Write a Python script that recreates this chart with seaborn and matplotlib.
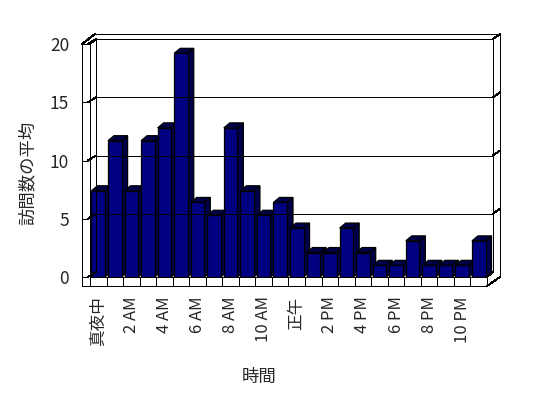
import matplotlib
matplotlib.use("Agg")
import matplotlib.pyplot as plt
import seaborn as sns
import pandas as pd
from matplotlib.lines import Line2D
from matplotlib.patches import Polygon
from matplotlib.transforms import Affine2D

# 時間帯ごとの平均訪問数
hours = ["真夜中", "1 AM", "2 AM", "3 AM", "4 AM", "5 AM", "6 AM", "7 AM",
         "8 AM", "9 AM", "10 AM", "11 AM", "正午", "1 PM", "2 PM", "3 PM",
         "4 PM", "5 PM", "6 PM", "7 PM", "8 PM", "9 PM", "10 PM", "11 PM"]
visits = [7.4, 11.7, 7.4, 11.7, 12.8, 19.2, 6.4, 5.3, 12.8, 7.4, 5.3, 6.4,
          4.2, 2.1, 2.1, 4.2, 2.1, 1.0, 1.0, 3.1, 1.0, 1.0, 1.0, 3.1]
y_ticks = [0, 5, 10, 15, 20]

sns.set_style("white")
plt.rcParams["font.family"] = ["Noto Sans CJK JP", "DejaVu Sans"]

W, H = 548, 398
fig = plt.figure(figsize=(W / 100, H / 100), dpi=100)
# pixel coords, origin top-left
px = Affine2D().scale(1 / W, -1 / H).translate(0, 1) + fig.transFigure
LW = 0.72  # one pixel

X0, X1, Y0, YT = 90, 487, 277, 44
ax = fig.add_axes([X0 / W, (H - Y0) / H, (X1 - X0) / W, (Y0 - YT) / H])

df = pd.DataFrame({"hour": hours, "visits": visits})
sns.barplot(data=df, x="hour", y="visits", order=hours, color="#000080",
            saturation=1, edgecolor="black", linewidth=0.9, width=0.82, ax=ax, zorder=3)
ax.set_xlim(-0.5, len(hours) - 0.5)
ax.set_ylim(0, 20)

# 3D depth of each bar
p0 = ax.transData.transform((0, 0))
p1 = ax.transData.transform((1, 1))
dxu = 6 / (p1[0] - p0[0])
dyu = 5 / (p1[1] - p0[1])
for bar in list(ax.patches):
    x0 = bar.get_x()
    x1 = x0 + bar.get_width()
    h = bar.get_height()
    side = Polygon([(x1, 0), (x1, h), (x1 + dxu, h + dyu), (x1 + dxu, dyu)],
                   closed=True, facecolor="#000048", edgecolor="black", lw=0.9,
                   zorder=2, clip_on=False)
    top = Polygon([(x0, h), (x1, h), (x1 + dxu, h + dyu), (x0 + dxu, h + dyu)],
                  closed=True, facecolor="#000048", edgecolor="black", lw=0.9,
                  zorder=2, clip_on=False)
    ax.add_patch(side)
    ax.add_patch(top)

for s in ["top", "right"]:
    ax.spines[s].set_visible(False)
for s in ["left", "bottom"]:
    ax.spines[s].set_linewidth(LW)
    ax.spines[s].set_color("black")
    ax.spines[s].set_antialiased(False)

ax.set_xticks(range(0, len(hours), 2))
ax.set_xticklabels(hours[::2], rotation=90, fontsize=12, va="top")
ax.set_xticks([i - 0.5 for i in range(len(hours) + 1)], minor=True)
ax.tick_params(axis="x", which="major", length=0, pad=14)
ax.tick_params(axis="x", which="minor", direction="out", length=6.5, width=LW,
               color="black", bottom=True)
ax.set_yticks(y_ticks)
ax.set_yticklabels([str(v) for v in y_ticks], fontsize=12.5)
ax.tick_params(axis="y", length=0, pad=15)
ax.set_xlabel("")
ax.set_ylabel("")

k = (Y0 - YT) / 20


def line(xs, ys):
    fig.add_artist(Line2D(xs, ys, transform=px, color="black", lw=LW,
                          antialiased=False))


# back wall
line([96, 96], [39, 272])
line([96, 493], [39, 39])
line([493, 493], [39, 272])
for v in y_ticks[1:-1]:
    yb = Y0 - v * k - 5
    line([96, 493], [yb, yb])
    line([493, 500], [yb, yb - 5])
line([493, 500], [39, 34])
line([95, 500], [34, 34])
line([500, 500], [34, 277])
line([500, 487], [277, 286])
line([487, 493], [277, 272])

# left wall
line([82, 82], [44, 286])
line([82, 90], [44, 44])
line([82, 95], [44, 34])
line([90, 96], [44, 39])
for v in y_ticks:
    yf = Y0 - v * k
    line([82, 88], [yf, yf])
    line([88, 96], [yf, yf - 5])

# floor slab
line([82, 487], [286, 286])

fig.text(28 / W, 1 - 173 / H, "訪問数の平均", rotation=90, fontsize=12.5,
         ha="center", va="center")
fig.text(259 / W, 1 - 377 / H, "時間", fontsize=12.5, ha="center", va="center")

fig.savefig("out.png", dpi=100)
